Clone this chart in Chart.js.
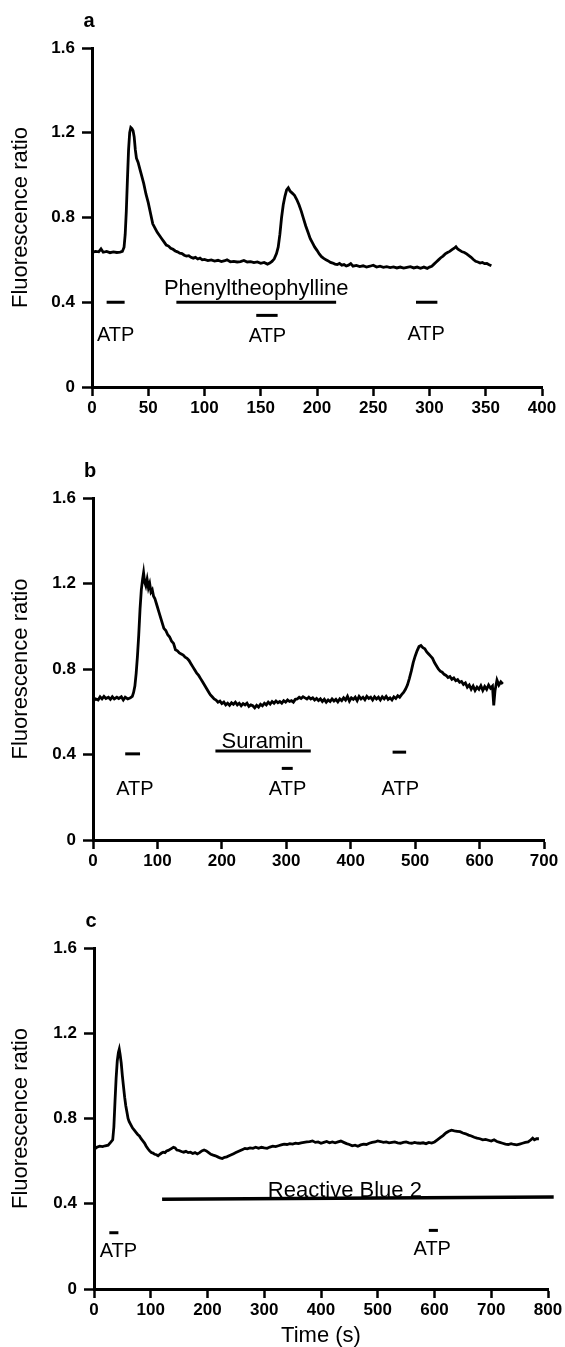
<!DOCTYPE html>
<html><head><meta charset="utf-8">
<script src="https://cdn.jsdelivr.net/npm/chart.js@4.4.1/dist/chart.umd.min.js"></script>
<style>
html,body{margin:0;padding:0;background:#fff;}
#wrap{position:relative;width:565px;height:1347px;overflow:hidden;background:#fff;}
canvas{position:absolute;left:0;}
</style></head><body>
<div id="wrap">
<canvas id="ca" width="565" height="445" style="top:0px"></canvas>
<canvas id="cb" width="565" height="445" style="top:450px"></canvas>
<canvas id="cc" width="565" height="447" style="top:900px"></canvas>
</div>
<script>
// ---------- DATA ----------
const yTicks = [0, 0.4, 0.8, 1.2, 1.6];
const yTickLabels = ['0', '0.4', '0.8', '1.2', '1.6'];
const xTicksA = [0, 50, 100, 150, 200, 250, 300, 350, 400];
const xTicksB = [0, 100, 200, 300, 400, 500, 600, 700];
const xTicksC = [0, 100, 200, 300, 400, 500, 600, 700, 800];

// Panel a trace
const timeA = [0,3,6,8,10,13,16,19,22,25,27,28.5,29.5,30.5,31.5,32.5,33.5,34.5,35.5,36.5,37.5,38.5,39.5,41,42.5,44,46,48,50,52,54,56,58,60,62,64,66,68,70,72,74,76,78,80,82,84,86,88,90,92,94,96,98,100,103,106,109,112,115,118,120,123,126,129,132,135,138,141,144,147,150,153,156,158,160,162,164,165.5,167,168.5,170,171.5,173,174.5,176,178,180,182,184,186,188,190,192,194,196,198,200,202,204,206,208,210,212,214,216,218,220,222,224,226,228,230,232,235,238,241,244,247,250,253,256,259,262,265,268,271,274,277,280,283,286,289,292,295,298,300,302,304,306,308,310,312,314,316,318,320,322,323.5,325,327,329,331,333,335,337,339,341,343,345,347,349,351,353,355];
const ratioA = [0.635,0.640,0.638,0.652,0.636,0.640,0.634,0.638,0.635,0.637,0.640,0.66,0.72,0.83,0.98,1.12,1.20,1.225,1.22,1.21,1.18,1.12,1.08,1.06,1.03,1.00,0.96,0.91,0.87,0.82,0.77,0.75,0.73,0.715,0.70,0.685,0.67,0.665,0.655,0.650,0.642,0.638,0.632,0.630,0.622,0.618,0.62,0.612,0.608,0.612,0.604,0.608,0.600,0.602,0.597,0.600,0.594,0.598,0.592,0.596,0.600,0.591,0.593,0.590,0.592,0.597,0.590,0.592,0.587,0.590,0.584,0.588,0.580,0.585,0.593,0.605,0.630,0.66,0.72,0.80,0.86,0.90,0.93,0.94,0.925,0.915,0.905,0.885,0.860,0.830,0.795,0.760,0.730,0.700,0.680,0.660,0.645,0.628,0.615,0.607,0.600,0.595,0.588,0.585,0.580,0.578,0.583,0.575,0.578,0.571,0.575,0.582,0.570,0.574,0.568,0.572,0.566,0.570,0.575,0.566,0.570,0.565,0.568,0.564,0.567,0.562,0.566,0.561,0.565,0.568,0.562,0.566,0.560,0.566,0.560,0.566,0.570,0.580,0.590,0.600,0.610,0.618,0.628,0.635,0.640,0.648,0.655,0.662,0.652,0.645,0.638,0.635,0.628,0.620,0.612,0.602,0.593,0.590,0.585,0.588,0.582,0.583,0.577,0.572];

// Panel b trace
const timeB = [0,4,8,11,14,17,20,24,27,30,33,37,40,44,47,50,54,58,61,63,65,67,69,71,73,75,77,78.5,80,82,84,86,88,90,92,94,96,98,100,102,104,106,108,110,113,116,119,122,125,128,131,134,137,140,143,146,149,152,155,158,161,164,167,170,173,176,179,182,185,188,191,194,197,200,203,206,209,212,215,218,221,224,227,230,233,236,239,242,245,248,251,254,257,260,263,266,269,272,275,278,281,284,287,290,293,296,299,302,305,308,311,314,317,320,323,326,329,332,335,338,341,344,347,350,353,356,359,362,365,368,371,374,377,380,383,386,389,392,395,398,401,404,407,410,413,416,419,422,425,428,431,434,437,440,443,446,449,452,455,458,461,464,467,470,473,476,479,482,485,488,491,494,497,500,503,506,509,512,515,518,521,524,527,530,533,536,539,542,545,548,551,554,557,560,563,566,569,572,575,578,581,584,587,590,593,596,599,602,605,608,611,614,617,620,622,624,627,630,633,636];
const ratioB = [0.650,0.660,0.655,0.670,0.660,0.672,0.662,0.668,0.658,0.670,0.660,0.668,0.662,0.670,0.655,0.668,0.660,0.665,0.672,0.690,0.72,0.78,0.86,0.96,1.08,1.17,1.22,1.25,1.21,1.19,1.22,1.18,1.20,1.16,1.17,1.14,1.13,1.11,1.09,1.07,1.05,1.03,1.01,0.99,0.98,0.96,0.95,0.93,0.92,0.89,0.885,0.875,0.87,0.865,0.855,0.85,0.84,0.825,0.81,0.795,0.78,0.77,0.755,0.74,0.725,0.71,0.695,0.68,0.670,0.660,0.655,0.645,0.650,0.638,0.645,0.632,0.640,0.630,0.642,0.635,0.645,0.632,0.640,0.628,0.638,0.632,0.640,0.625,0.632,0.628,0.618,0.630,0.622,0.635,0.628,0.640,0.632,0.645,0.636,0.648,0.640,0.650,0.642,0.648,0.640,0.652,0.645,0.655,0.648,0.652,0.645,0.658,0.660,0.668,0.662,0.670,0.665,0.660,0.668,0.660,0.665,0.655,0.662,0.652,0.660,0.648,0.658,0.645,0.655,0.648,0.660,0.650,0.658,0.646,0.660,0.652,0.665,0.655,0.672,0.650,0.665,0.658,0.668,0.652,0.672,0.660,0.668,0.656,0.672,0.662,0.668,0.655,0.670,0.660,0.668,0.655,0.670,0.660,0.672,0.658,0.665,0.655,0.670,0.662,0.675,0.668,0.680,0.690,0.705,0.725,0.755,0.790,0.830,0.860,0.885,0.905,0.910,0.900,0.895,0.880,0.870,0.860,0.850,0.830,0.815,0.800,0.790,0.785,0.775,0.770,0.760,0.765,0.752,0.758,0.745,0.750,0.738,0.742,0.728,0.735,0.715,0.725,0.705,0.720,0.700,0.715,0.705,0.722,0.700,0.718,0.705,0.725,0.710,0.720,0.630,0.700,0.748,0.725,0.740,0.730];

// Panel c trace
const timeC = [0,5,10,15,20,25,30,33,35,37,39,41,43,44.5,46,48,50,52,54,56,58,60,62,65,68,71,74,77,80,83,86,89,92,95,98,101,104,107,110,113,116,119,122,125,128,131,134,137,140,143,146,150,154,158,162,166,170,174,178,182,186,190,194,198,202,206,210,214,218,222,226,230,234,238,242,246,250,254,258,262,266,270,275,280,285,290,295,300,305,310,315,320,325,330,335,340,345,350,355,360,365,370,375,380,385,390,395,400,405,410,415,420,425,430,435,440,445,450,455,460,465,470,475,480,485,490,495,500,505,510,515,520,525,530,535,540,545,550,555,560,565,570,575,580,585,590,595,600,605,610,615,620,625,630,635,640,645,650,655,660,665,670,675,680,685,690,695,700,705,710,715,720,725,730,735,740,745,750,755,760,765,770,773,776,780,784];
const ratioC = [0.655,0.665,0.670,0.668,0.672,0.675,0.690,0.700,0.760,0.880,0.990,1.070,1.110,1.125,1.100,1.060,1.000,0.950,0.900,0.860,0.830,0.800,0.785,0.770,0.755,0.745,0.735,0.725,0.718,0.705,0.695,0.685,0.670,0.658,0.648,0.640,0.638,0.632,0.630,0.625,0.632,0.638,0.642,0.640,0.648,0.650,0.655,0.660,0.665,0.662,0.652,0.650,0.645,0.642,0.646,0.640,0.642,0.636,0.640,0.634,0.640,0.648,0.652,0.648,0.640,0.632,0.628,0.625,0.620,0.615,0.612,0.618,0.620,0.625,0.630,0.635,0.640,0.645,0.650,0.655,0.660,0.658,0.662,0.660,0.665,0.660,0.665,0.662,0.660,0.666,0.670,0.668,0.672,0.676,0.680,0.678,0.682,0.680,0.684,0.682,0.686,0.688,0.690,0.692,0.695,0.688,0.690,0.684,0.688,0.692,0.686,0.690,0.686,0.690,0.694,0.688,0.682,0.678,0.672,0.675,0.670,0.676,0.680,0.678,0.684,0.688,0.690,0.695,0.692,0.688,0.690,0.686,0.688,0.690,0.686,0.684,0.688,0.690,0.686,0.684,0.688,0.685,0.684,0.686,0.682,0.688,0.685,0.690,0.700,0.710,0.720,0.732,0.740,0.745,0.742,0.740,0.738,0.732,0.728,0.722,0.718,0.712,0.708,0.705,0.700,0.702,0.698,0.694,0.700,0.692,0.688,0.684,0.680,0.678,0.682,0.678,0.676,0.680,0.684,0.688,0.690,0.700,0.708,0.700,0.705,0.705];

// Drug / ATP application periods (s)
const atpA = [[13, 29], [146, 165], [288, 307]];
const drugA = [75, 217];
const atpB = [[50, 73], [293, 310], [465, 486]];
const drugB = [190, 338];
const atpC = [[27, 43], [590, 606]];
const drugC = [120, 810];

// ---------- RENDERING ----------
const FONT = '"Liberation Sans", Arial, Helvetica, sans-serif';

const annotPlugin = {
  id: 'annot',
  afterDatasetsDraw(chart, args, opts) {
    const {ctx, chartArea, scales: {x, y}} = chart;
    ctx.save();
    ctx.fillStyle = '#000';
    ctx.textAlign = 'center';
    ctx.textBaseline = 'middle';
    (opts.labels || []).forEach(l => {
      ctx.font = 'normal ' + l.size + 'px ' + FONT;
      ctx.fillText(l.text, x.getPixelForValue(l.x), y.getPixelForValue(l.y));
    });
    if (opts.panel) {
      ctx.font = 'bold 20px ' + FONT;
      ctx.fillText(opts.panel, chartArea.left - 3, chartArea.top - 27);
    }
    ctx.restore();
  }
};

function traceDs(t, v) {
  return {data: t.map((tt, i) => ({x: tt, y: v[i]})), borderColor: '#000', borderWidth: 2.8,
          pointRadius: 0, tension: 0, fill: false};
}
function barDs(x0, x1, y0, y1, w) {
  return {data: [{x: x0, y: y0}, {x: x1, y: y1}], borderColor: '#000', borderWidth: w || 3,
          pointRadius: 0, fill: false, clip: false};
}

function makeChart(id, g, datasets, xTicks, labels, panel, xTitle) {
  const tickFont = {family: FONT, size: 17, weight: 'bold'};
  return new Chart(document.getElementById(id), {
    type: 'line',
    data: {datasets},
    plugins: [annotPlugin],
    options: {
      responsive: false, animation: false, devicePixelRatio: 1,
      layout: {padding: {left: 0, top: g.top, right: 565 - g.right, bottom: 0}},
      plugins: {legend: {display: false}, tooltip: {enabled: false},
                annot: {labels, panel}},
      scales: {
        x: {
          type: 'linear', min: xTicks[0], max: xTicks[xTicks.length - 1],
          afterFit(s) { s.height = g.h - g.bottom; },
          afterBuildTicks(s) { s.ticks = xTicks.map(v => ({value: v})); },
          ticks: {color: '#000', font: tickFont, padding: 2, maxRotation: 0, autoSkip: false,
                  callback: v => String(v)},
          grid: {drawOnChartArea: false, drawTicks: true, tickLength: 9, tickWidth: 2.5, tickColor: '#000'},
          border: {color: '#000', width: 3},
          title: xTitle ? {display: true, text: xTitle, color: '#000',
                           font: {family: FONT, size: 22, lineHeight: 1}, padding: {top: 0, bottom: 0}}
                        : {display: false}
        },
        y: {
          min: 0, max: 1.6,
          afterFit(s) { s.width = g.left; },
          afterBuildTicks(s) { s.ticks = yTicks.map(v => ({value: v})); },
          ticks: {color: '#000', font: tickFont, padding: 7,
                  callback: (v, i) => yTickLabels[i]},
          grid: {drawOnChartArea: false, drawTicks: true, tickLength: 10, tickWidth: 2.5, tickColor: '#000'},
          border: {color: '#000', width: 3},
          title: {display: true, text: 'Fluorescence ratio', color: '#000',
                  font: {family: FONT, size: 22}, padding: {top: 8, bottom: 0}}
        }
      }
    }
  });
}

// Panel a
makeChart('ca', {top: 48, bottom: 387, left: 92, right: 542, h: 445},
  [traceDs(timeA, ratioA),
   barDs(atpA[0][0], atpA[0][1], 0.40, 0.40),
   barDs(drugA[0], drugA[1], 0.40, 0.40),
   barDs(atpA[1][0], atpA[1][1], 0.338, 0.338),
   barDs(atpA[2][0], atpA[2][1], 0.40, 0.40)],
  xTicksA,
  [{text: 'ATP', x: 21, y: 0.245, size: 20},
   {text: 'Phenyltheophylline', x: 146, y: 0.463, size: 22},
   {text: 'ATP', x: 156, y: 0.237, size: 20},
   {text: 'ATP', x: 297, y: 0.249, size: 20}],
  'a', null);

// Panel b
makeChart('cb', {top: 48, bottom: 390, left: 93, right: 544, h: 445},
  [traceDs(timeB, ratioB),
   barDs(atpB[0][0], atpB[0][1], 0.403, 0.403),
   barDs(drugB[0], drugB[1], 0.416, 0.416),
   barDs(atpB[1][0], atpB[1][1], 0.335, 0.335),
   barDs(atpB[2][0], atpB[2][1], 0.411, 0.411)],
  xTicksB,
  [{text: 'ATP', x: 65, y: 0.237, size: 20},
   {text: 'Suramin', x: 263, y: 0.457, size: 22},
   {text: 'ATP', x: 302, y: 0.237, size: 20},
   {text: 'ATP', x: 477, y: 0.237, size: 20}],
  'b', null);

// Panel c
makeChart('cc', {top: 48, bottom: 389, left: 94, right: 548, h: 447},
  [traceDs(timeC, ratioC),
   barDs(atpC[0][0], atpC[0][1], 0.264, 0.264),
   barDs(drugC[0], drugC[1], 0.421, 0.432, 3.5),
   barDs(atpC[1][0], atpC[1][1], 0.275, 0.275)],
  xTicksC,
  [{text: 'ATP', x: 43, y: 0.178, size: 20},
   {text: 'Reactive Blue 2', x: 442, y: 0.46, size: 22},
   {text: 'ATP', x: 596, y: 0.185, size: 20}],
  'c', 'Time (s)');
</script>
</body></html>
